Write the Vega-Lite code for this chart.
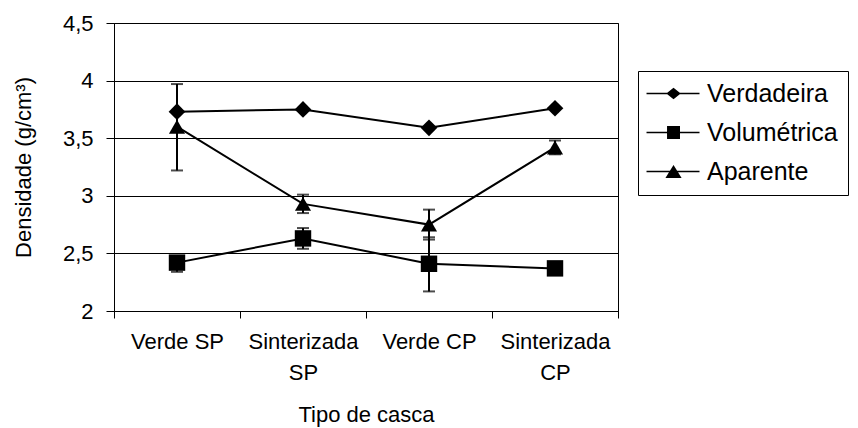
{
  "$schema": "https://vega.github.io/schema/vega-lite/v6.json",
  "autosize": {"type": "none"},
  "width": 504,
  "height": 288,
  "padding": {"left": 114, "top": 23, "right": 240, "bottom": 117},
  "background": "white",
  "config": {
    "font": "Liberation Sans",
    "view": {"stroke": "black", "strokeWidth": 1},
    "axis": {
      "domainColor": "black",
      "tickColor": "black",
      "labelColor": "black",
      "titleColor": "black",
      "labelFont": "Liberation Sans",
      "titleFont": "Liberation Sans",
      "labelFontSize": 22,
      "titleFontSize": 22,
      "titleFontWeight": "normal"
    }
  },
  "data": {
    "values": [
      {"tipo": "Verde SP", "serie": "Verdadeira", "v": 3.73, "lo": 3.73, "hi": 3.73},
      {"tipo": "Sinterizada SP", "serie": "Verdadeira", "v": 3.75, "lo": 3.75, "hi": 3.75},
      {"tipo": "Verde CP", "serie": "Verdadeira", "v": 3.59, "lo": 3.59, "hi": 3.59},
      {"tipo": "Sinterizada CP", "serie": "Verdadeira", "v": 3.76, "lo": 3.76, "hi": 3.76},
      {"tipo": "Verde SP", "serie": "Volumétrica", "v": 2.42, "lo": 2.34, "hi": 2.47},
      {"tipo": "Sinterizada SP", "serie": "Volumétrica", "v": 2.63, "lo": 2.54, "hi": 2.72},
      {"tipo": "Verde CP", "serie": "Volumétrica", "v": 2.41, "lo": 2.17, "hi": 2.64},
      {"tipo": "Sinterizada CP", "serie": "Volumétrica", "v": 2.37, "lo": 2.33, "hi": 2.42},
      {"tipo": "Verde SP", "serie": "Aparente", "v": 3.6, "lo": 3.22, "hi": 3.97},
      {"tipo": "Sinterizada SP", "serie": "Aparente", "v": 2.93, "lo": 2.85, "hi": 3.01},
      {"tipo": "Verde CP", "serie": "Aparente", "v": 2.75, "lo": 2.62, "hi": 2.88},
      {"tipo": "Sinterizada CP", "serie": "Aparente", "v": 3.42, "lo": 3.36, "hi": 3.48}
    ]
  },
  "encoding": {
    "x": {
      "field": "tipo",
      "type": "nominal",
      "sort": ["Verde SP", "Sinterizada SP", "Verde CP", "Sinterizada CP"],
      "scale": {"paddingInner": 0, "paddingOuter": 0},
      "axis": {
        "title": "Tipo de casca",
        "labelAngle": 0,
        "tickBand": "extent",
        "tickSize": 7,
        "labelPadding": 13,
        "titlePadding": 21,
        "labelExpr": "indexof(datum.label, 'Verde') == 0 ? datum.label : split(datum.label, ' ')",
        "labelLineHeight": 31,
        "labelBaseline": "top"
      }
    },
    "y": {
      "field": "v",
      "type": "quantitative",
      "scale": {"domain": [2, 4.5], "nice": false, "zero": false},
      "axis": {
        "title": "Densidade (g/cm³)",
        "values": [2, 2.5, 3, 3.5, 4, 4.5],
        "labelExpr": "replace(toString(datum.value), '.', ',')",
        "gridColor": "black",
        "gridOpacity": 1,
        "grid": true,
        "tickSize": 8,
        "labelPadding": 13,
        "titlePadding": 27
      }
    }
  },
  "layer": [
    {
      "mark": {"type": "line", "color": "black", "strokeWidth": 2},
      "encoding": {"detail": {"field": "serie"}}
    },
    {
      "mark": {"type": "rule", "color": "black", "strokeWidth": 2},
      "encoding": {"y": {"field": "lo", "type": "quantitative"}, "y2": {"field": "hi"}}
    },
    {
      "mark": {"type": "tick", "color": "black", "size": 12, "thickness": 2},
      "encoding": {"y": {"field": "lo", "type": "quantitative"}}
    },
    {
      "mark": {"type": "tick", "color": "black", "size": 12, "thickness": 2},
      "encoding": {"y": {"field": "hi", "type": "quantitative"}}
    },
    {
      "mark": {"type": "point", "filled": true, "color": "black", "opacity": 1},
      "encoding": {
        "shape": {
          "field": "serie",
          "type": "nominal",
          "scale": {"domain": ["Verdadeira", "Volumétrica", "Aparente"], "range": ["diamond", "square", "triangle-up"]},
          "legend": null
        },
        "size": {
          "field": "serie",
          "type": "nominal",
          "scale": {"domain": ["Verdadeira", "Volumétrica", "Aparente"], "range": [280, 260, 300]},
          "legend": null
        }
      }
    },
    {
      "mark": {"type": "point", "filled": true, "color": "black", "opacity": 0, "size": 144},
      "encoding": {
        "shape": {
          "field": "serie",
          "type": "nominal",
          "scale": {
            "domain": ["Verdadeira", "Volumétrica", "Aparente"],
            "range": [
              "M-2.33,-0.14L6.5,-0.14L6.5,0.14L-2.33,0.14ZM2.17,-0.95L3.37,0L2.17,0.95L0.97,0Z",
              "M-2.33,-0.14L6.5,-0.14L6.5,0.14L-2.33,0.14ZM1.09,-1.08L3.25,-1.08L3.25,1.08L1.09,1.08Z",
              "M-2.33,-0.14L6.5,-0.14L6.5,0.14L-2.33,0.14ZM2.17,-1.1L3.52,1.1L0.82,1.1Z"
            ]
          },
          "legend": {
            "title": null,
            "orient": "none",
            "legendX": 524,
            "legendY": 48,
            "strokeColor": "black",
            "padding": 10,
            "symbolSize": 144,
            "labelFontSize": 25,
            "labelFont": "Liberation Sans",
            "labelColor": "black",
            "labelOffset": 34,
            "labelLimit": 400,
            "rowPadding": 13,
            "labelExpr": "indexof(datum.label, 'Vol') == 0 ? '\u00a0' + datum.label + '\u00a0\u00a0\u00a0' : datum.label",
            "encode": {
              "symbols": {
                "update": {
                  "fill": {"value": "black"},
                  "opacity": {"value": 1},
                  "fillOpacity": {"value": 1}
                }
              }
            }
          }
        }
      }
    }
  ],
  "resolve": {"scale": {"shape": "independent", "size": "independent"}}
}
